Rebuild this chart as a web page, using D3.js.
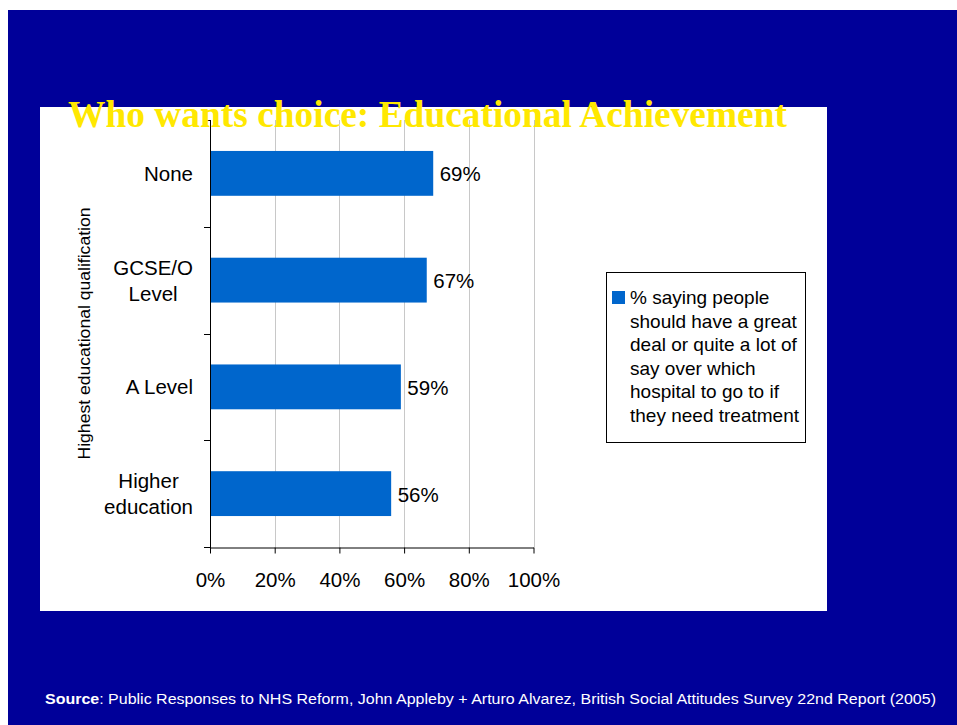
<!DOCTYPE html>
<html>
<head>
<meta charset="utf-8">
<script src="https://cdn.jsdelivr.net/npm/d3@7"></script>
<style>
  html, body { margin: 0; padding: 0; background: #ffffff; }
  svg { display: block; }
</style>
</head>
<body>
<script>
// Survey results: share wanting a say over which hospital, by qualification
const categories = ["None", "GCSE/O\nLevel", "A Level", "Higher\neducation"];
const values = [69, 67, 59, 56];
const xTicks = [0, 20, 40, 60, 80, 100];
const legendLines = [
  "% saying people",
  "should have a great",
  "deal or quite a lot of",
  "say over which",
  "hospital to go to if",
  "they need treatment"
];
const titleText = "Who wants choice: Educational Achievement";
const yAxisTitle = "Highest educational qualification";
const sourceLabel = "Source";
const sourceText = ": Public Responses to NHS Reform, John Appleby + Arturo Alvarez, British Social Attitudes Survey 22nd Report (2005)";

const W = 957, H = 725;
const sans = "'Liberation Sans', Arial, Helvetica, sans-serif";
const serif = "'Liberation Serif', 'Times New Roman', Times, serif";
const barColor = "#0066cc";

const svg = d3.select("body").append("svg").attr("width", W).attr("height", H);

// slide background
svg.append("rect").attr("x", 8).attr("y", 10).attr("width", W - 8).attr("height", H - 10)
  .attr("fill", "#000099");

// chart panel
svg.append("rect").attr("x", 40).attr("y", 107).attr("width", 787).attr("height", 504)
  .attr("fill", "#ffffff");

// plot area
const plot = { left: 210, right: 533.5, top: 120, bottom: 547 };

const x = d3.scaleLinear().domain([0, 100]).range([plot.left, plot.right]);
const y = d3.scaleBand().domain(categories).range([plot.top, plot.bottom])
  .paddingInner(0.58).paddingOuter(0.29);

// vertical gridlines
svg.append("g").selectAll("line").data(xTicks.filter(d => d > 0)).join("line")
  .attr("x1", d => Math.round(x(d)) + 0.5).attr("x2", d => Math.round(x(d)) + 0.5)
  .attr("y1", plot.top).attr("y2", plot.bottom)
  .attr("stroke", "#c8c8c8").attr("stroke-width", 1);

// bars
svg.append("g").selectAll("rect").data(values).join("rect")
  .attr("x", x(0))
  .attr("y", (d, i) => y(categories[i]))
  .attr("width", d => x(d) - x(0))
  .attr("height", y.bandwidth())
  .attr("fill", barColor);

// value labels
svg.append("g").selectAll("text").data(values).join("text")
  .attr("x", d => x(d) + 6.5)
  .attr("y", (d, i) => y(categories[i]) + y.bandwidth() / 2 + 8)
  .attr("font-family", sans).attr("font-size", 20.5).attr("fill", "#000")
  .text(d => d + "%");

// x axis
svg.append("g").attr("transform", `translate(0,${plot.bottom + 0.5})`)
  .call(d3.axisBottom(x).tickValues(xTicks).tickFormat(d => d + "%").tickSize(6).tickSizeOuter(0))
  .call(g => g.select(".domain").attr("stroke", "#000"))
  .call(g => g.selectAll(".tick line").attr("stroke", "#000"))
  .call(g => g.selectAll(".tick text").attr("font-family", sans).attr("font-size", 20.5)
    .attr("fill", "#000").attr("dy", null).attr("y", 39));

// y axis line with ticks at category boundaries
const boundaries = d3.range(categories.length + 1).map(i => plot.top + i * y.step());
svg.append("line").attr("x1", plot.left + 0.5).attr("x2", plot.left + 0.5)
  .attr("y1", plot.top).attr("y2", plot.bottom + 6).attr("stroke", "#000");
svg.append("g").selectAll("line").data(boundaries).join("line")
  .attr("x1", plot.left - 6).attr("x2", plot.left)
  .attr("y1", d => Math.round(d) + 0.5).attr("y2", d => Math.round(d) + 0.5)
  .attr("stroke", "#000");

// category labels: lines centred within a right-aligned block
const catG = svg.append("g");
categories.forEach(cat => {
  const lines = cat.split("\n");
  const cy = y(cat) + y.bandwidth() / 2;
  const lineH = 26;
  const t = catG.append("text")
    .attr("font-family", sans).attr("font-size", 20.5).attr("fill", "#000")
    .attr("text-anchor", "middle");
  lines.forEach((ln, i) => {
    t.append("tspan").attr("x", 0)
      .attr("y", cy + 7.5 + (i - (lines.length - 1) / 2) * lineH)
      .text(ln);
  });
  const maxW = d3.max(t.selectAll("tspan").nodes(), n => n.getComputedTextLength());
  t.selectAll("tspan").attr("x", 193 - maxW / 2);
});

// y axis title
svg.append("text")
  .attr("transform", `translate(90,${(plot.top + plot.bottom) / 2}) rotate(-90)`)
  .attr("text-anchor", "middle")
  .attr("font-family", sans).attr("font-size", 16).attr("fill", "#000")
  .attr("textLength", 252).attr("lengthAdjust", "spacingAndGlyphs")
  .text(yAxisTitle);

// legend
const lg = svg.append("g");
lg.append("rect").attr("x", 606.5).attr("y", 272.5).attr("width", 199).attr("height", 170)
  .attr("fill", "#fff").attr("stroke", "#000").attr("stroke-width", 1);
lg.append("rect").attr("x", 612).attr("y", 291).attr("width", 13).attr("height", 13)
  .attr("fill", barColor);
lg.append("text").attr("font-family", sans).attr("font-size", 19).attr("fill", "#000")
  .selectAll("tspan").data(legendLines).join("tspan")
  .attr("x", 630).attr("y", (d, i) => 304 + i * 23.6)
  .text(d => d);

// title
svg.append("text")
  .attr("x", 68).attr("y", 126.5)
  .attr("font-family", serif).attr("font-weight", "bold").attr("font-size", 37.5)
  .attr("fill", "#ffe800")
  .attr("textLength", 719).attr("lengthAdjust", "spacingAndGlyphs")
  .text(titleText);

// source note
const src = svg.append("text")
  .attr("x", 45).attr("y", 704)
  .attr("font-family", sans).attr("font-size", 14).attr("fill", "#fff")
  .attr("textLength", 891).attr("lengthAdjust", "spacingAndGlyphs");
src.append("tspan").attr("font-weight", "bold").text(sourceLabel);
src.append("tspan").text(sourceText);
</script>
</body>
</html>
